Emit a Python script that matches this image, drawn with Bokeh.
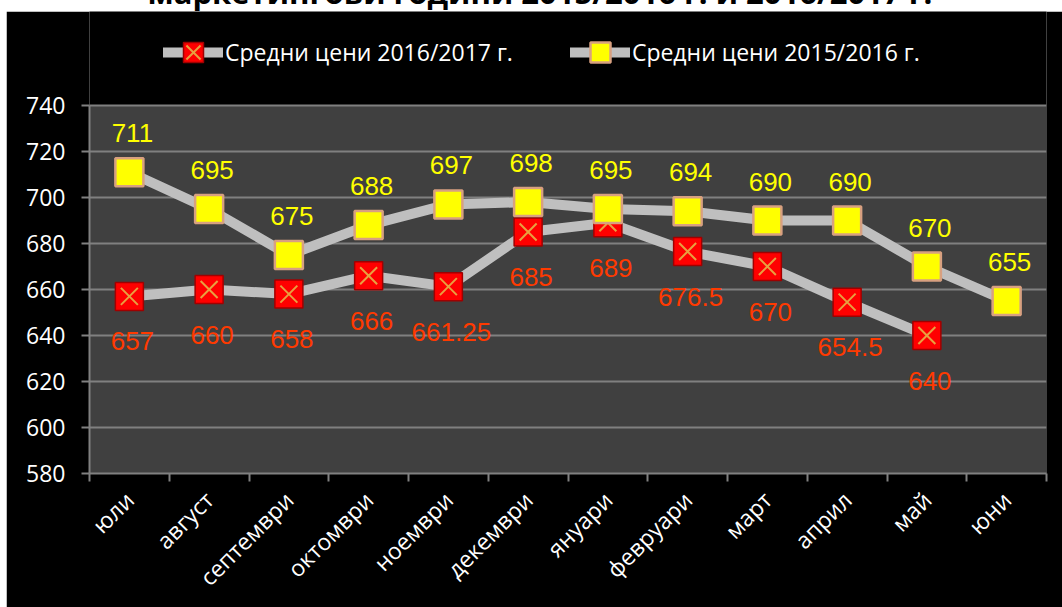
import numpy as np
from bokeh.plotting import figure
from bokeh.models import (ColumnDataSource, Range1d, FixedTicker, LabelSet,
                          Legend, LegendItem, Div, BoxAnnotation)
from bokeh.layouts import column
from bokeh.embed import file_html
from bokeh.resources import INLINE
from bokeh.core.properties import value

# ---- data ----
title_text = "маркетингови години 2015/2016 г. и 2016/2017 г."
months = ["юли", "август", "септември", "октомври", "ноември", "декември",
          "януари", "февруари", "март", "април", "май", "юни"]
prices_1617 = [657, 660, 658, 666, 661.25, 685, 689, 676.5, 670, 654.5, 640, None]
prices_1516 = [711, 695, 675, 688, 697, 698, 695, 694, 690, 690, 670, 655]
label_1617 = "Средни цени 2016/2017 г."
label_1516 = "Средни цени 2015/2016 г."
y_ticks = [580, 600, 620, 640, 660, 680, 700, 720, 740]

centers = [i + 0.5 for i in range(len(months))]
bounds = list(range(len(months) + 1))

def fmt(v):
    return "" if v is None else f"{v:g}"

src_a = ColumnDataSource(dict(
    x=centers,
    y=[np.nan if v is None else v for v in prices_1617],
    lbl=[fmt(v) for v in prices_1617]))
src_b = ColumnDataSource(dict(
    x=centers, y=prices_1516, lbl=[fmt(v) for v in prices_1516]))

# ---- styles ----
LINE = dict(line_color="#BFBFBF", line_width=10, line_cap="round", line_join="round")
RED_SQ = dict(marker="square", fill_color="#FF0000", line_color="#A00000", line_width=1.5)
RED_X = dict(marker="x", line_color="#E8A040", line_width=2)
YEL_SQ = dict(marker="square", fill_color="#FFFF00", line_color="#D8A080", line_width=2.5)

# layout: plot area 368 px tall for 580..740; frame extends 94 px above it for the legend
PLOT_H, TOP_EXTRA = 368, 94
y_lo, y_hi = y_ticks[0], y_ticks[-1]
y_top = y_hi + TOP_EXTRA * (y_hi - y_lo) / PLOT_H

p = figure(width=1056, height=596, output_backend="svg", toolbar_location=None,
           x_range=Range1d(0, len(months)), y_range=Range1d(y_lo, y_top),
           min_border_left=83, min_border_right=16, min_border_top=0,
           min_border_bottom=134, margin=(0, 0, 0, 6))
p.border_fill_color = "black"
p.background_fill_color = "black"
p.outline_line_color = None
p.add_layout(BoxAnnotation(bottom=y_lo, top=y_hi, fill_color="#404040", fill_alpha=1,
                           line_alpha=0, level="image"))

xa = p.xaxis[0]
xa.ticker = FixedTicker(ticks=centers, minor_ticks=bounds)
xa.major_label_overrides = {c: m for c, m in zip(centers, months)}
xa.major_tick_line_color = None
xa.major_tick_out = 8
xa.minor_tick_line_color = "#808080"
xa.minor_tick_line_width = 2
xa.minor_tick_out = 8
xa.minor_tick_in = 0
xa.axis_line_color = "#808080"
xa.axis_line_width = 2
xa.major_label_orientation = np.pi / 4
xa.major_label_text_color = "white"
xa.major_label_text_font = "Open Sans"
xa.major_label_text_font_size = "23px"
xa.major_label_standoff = 14
p.xgrid.grid_line_color = None

ya = p.yaxis[0]
ya.ticker = FixedTicker(ticks=y_ticks)
ya.bounds = (y_lo, y_hi)
ya.major_tick_line_color = "#808080"
ya.major_tick_line_width = 2
ya.major_tick_out = 8
ya.major_tick_in = 0
ya.minor_tick_line_color = None
ya.axis_line_color = "#808080"
ya.axis_line_width = 2
ya.major_label_text_color = "white"
ya.major_label_text_font = "Open Sans"
ya.major_label_text_font_size = "23px"
ya.major_label_standoff = 16
p.ygrid.grid_line_color = "#808080"
p.ygrid.grid_line_width = 2

la = p.line("x", "y", source=src_a, **LINE)
sa = p.scatter("x", "y", source=src_a, size=28, **RED_SQ)
xm = p.scatter("x", "y", source=src_a, size=24, **RED_X)
lb = p.line("x", "y", source=src_b, **LINE)
sb = p.scatter("x", "y", source=src_b, size=28, **YEL_SQ)

p.add_layout(LabelSet(x="x", y="y", text="lbl", source=src_a, x_offset=3, y_offset=-45,
                      text_align="center", text_baseline="middle",
                      text_color="#FF3A00", text_font=value("Liberation Sans"),
                      text_font_size="26px"))
p.add_layout(LabelSet(x="x", y="y", text="lbl", source=src_b, x_offset=3, y_offset=39,
                      text_align="center", text_baseline="middle",
                      text_color="#FFFF00", text_font=value("Liberation Sans"),
                      text_font_size="26px"))

legend = Legend(items=[LegendItem(label=label_1617, renderers=[la, sa, xm]),
                       LegendItem(label=label_1516, renderers=[lb, sb])],
                orientation="horizontal", location=(74, 396),
                background_fill_alpha=0, border_line_alpha=0,
                label_text_color="white", label_text_font="Open Sans",
                label_text_font_size="23px", glyph_width=60, glyph_height=50,
                spacing=57, margin=0, padding=0, label_standoff=2)
p.add_layout(legend)

title = Div(text=title_text, width=1056, height=11, margin=(0, 0, 0, 6),
            styles={"font-weight": "bold", "font-size": "31px", "font-family": "Open Sans",
                    "text-align": "center", "white-space": "nowrap", "color": "black",
                    "transform": "translate(6px, -27px)", "line-height": "38px"})

layout = column(title, p, spacing=0)
open("out.html", "w").write(file_html(layout, INLINE))
